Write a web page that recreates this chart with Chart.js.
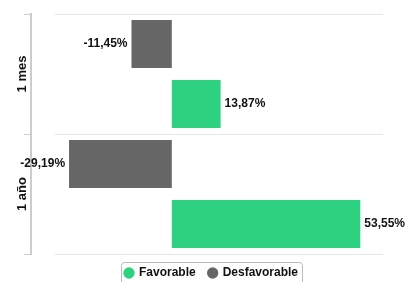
<!DOCTYPE html>
<html>
<head>
<meta charset="utf-8">
<script src="https://cdn.jsdelivr.net/npm/chart.js@4/dist/chart.umd.min.js"></script>
<style>
  html, body { margin: 0; padding: 0; background: #fff; }
  #wrap { width: 417px; height: 282px; }
</style>
</head>
<body>
<div id="wrap"><canvas id="barChart"></canvas></div>
<script>
var periods = ['1 mes', '1 año'];
var unfavorable = [-11.45, -29.19];
var favorable = [13.87, 53.55];

Chart.defaults.font.family = "'Liberation Sans', Arial, Helvetica, sans-serif";
Chart.defaults.color = '#111';

function fmt(v) {
    return v.toFixed(2).replace('.', ',') + '%';
}

// value labels at the end of each bar
var barLabels = {
    id: 'barLabels',
    afterDatasetsDraw: function (chart) {
        var ctx = chart.ctx;
        ctx.save();
        ctx.font = 'bold 12px ' + Chart.defaults.font.family;
        ctx.fillStyle = '#111';
        ctx.textBaseline = 'middle';
        chart.data.datasets.forEach(function (ds, i) {
            chart.getDatasetMeta(i).data.forEach(function (bar, j) {
                var v = ds.data[j];
                ctx.textAlign = v < 0 ? 'right' : 'left';
                ctx.fillText(fmt(v), bar.x + (v < 0 ? -4 : 4), bar.y);
            });
        });
        ctx.restore();
    }
};

// category separators, rotated category names and the legend frame
var decor = {
    id: 'decor',
    beforeDatasetsDraw: function (chart) {
        var ctx = chart.ctx, y = chart.scales.y, area = chart.chartArea;
        ctx.save();
        ctx.strokeStyle = '#e6e6e6';
        ctx.lineWidth = 1;
        for (var i = 0; i <= periods.length; i++) {
            var py = Math.round(i < periods.length ? y.getPixelForValue(i) - (y.getPixelForValue(1) - y.getPixelForValue(0)) / 2 : area.bottom) + 0.5;
            ctx.beginPath();
            ctx.moveTo(area.left + 24, py);
            ctx.lineTo(area.right, py);
            ctx.stroke();
        }
        ctx.restore();
    },
    afterDraw: function (chart) {
        var ctx = chart.ctx, y = chart.scales.y;
        ctx.save();
        ctx.font = 'bold 13px ' + Chart.defaults.font.family;
        ctx.fillStyle = '#111';
        ctx.textAlign = 'center';
        ctx.textBaseline = 'middle';
        periods.forEach(function (p, i) {
            ctx.save();
            ctx.translate(22, y.getPixelForValue(i));
            ctx.rotate(-Math.PI / 2);
            ctx.fillText(p, 0, 0);
            ctx.restore();
        });
        var boxes = chart.legend.legendHitBoxes;
        if (boxes && boxes.length) {
            var l = Math.min.apply(null, boxes.map(b => b.left));
            var r = Math.max.apply(null, boxes.map(b => b.left + b.width));
            var t = boxes[0].top;
            ctx.strokeStyle = '#bbbbbb';
            ctx.lineWidth = 1;
            ctx.beginPath();
            ctx.roundRect(Math.round(l - 4) + 0.5, Math.round(t - 5) + 0.5, Math.round(r - l + 8), 24, 3);
            ctx.stroke();
        }
        ctx.restore();
    }
};

var ctx = document.getElementById('barChart').getContext('2d');
var barChart = new Chart(ctx, {
    type: 'bar',
    data: {
        labels: periods,
        datasets: [{
            label: 'Desfavorable',
            data: unfavorable,
            backgroundColor: '#666666',
            borderWidth: 0
        }, {
            label: 'Favorable',
            data: favorable,
            backgroundColor: '#2ed180',
            borderWidth: 0
        }]
    },
    options: {
        indexAxis: 'y',
        responsive: true,
        maintainAspectRatio: false,
        animation: false,
        categoryPercentage: 1,
        barPercentage: 0.8,
        layout: {
            padding: { top: 14, right: 0, bottom: -7, left: 6 }
        },
        scales: {
            x: {
                display: false,
                min: -40,
                max: 60
            },
            y: {
                afterFit: function (s) { s.width = 25; },
                grid: {
                    drawOnChartArea: false,
                    drawTicks: true,
                    tickLength: 7,
                    color: '#cccccc'
                },
                border: { display: true, color: '#cccccc', width: 2 },
                ticks: { display: false }
            },
            yr: {
                type: 'category',
                position: 'right',
                afterFit: function (s) { s.width = 34; },
                grid: { display: false },
                border: { display: false },
                ticks: { display: false }
            }
        },
        plugins: {
            legend: {
                position: 'bottom',
                reverse: true,
                labels: {
                    usePointStyle: true,
                    pointStyle: 'circle',
                    boxWidth: 8,
                    boxHeight: 8,
                    padding: 13,
                    color: '#111',
                    font: { size: 12, weight: 'bold' }
                }
            },
            tooltip: { enabled: false }
        }
    },
    plugins: [barLabels, decor]
});
</script>
</body>
</html>
